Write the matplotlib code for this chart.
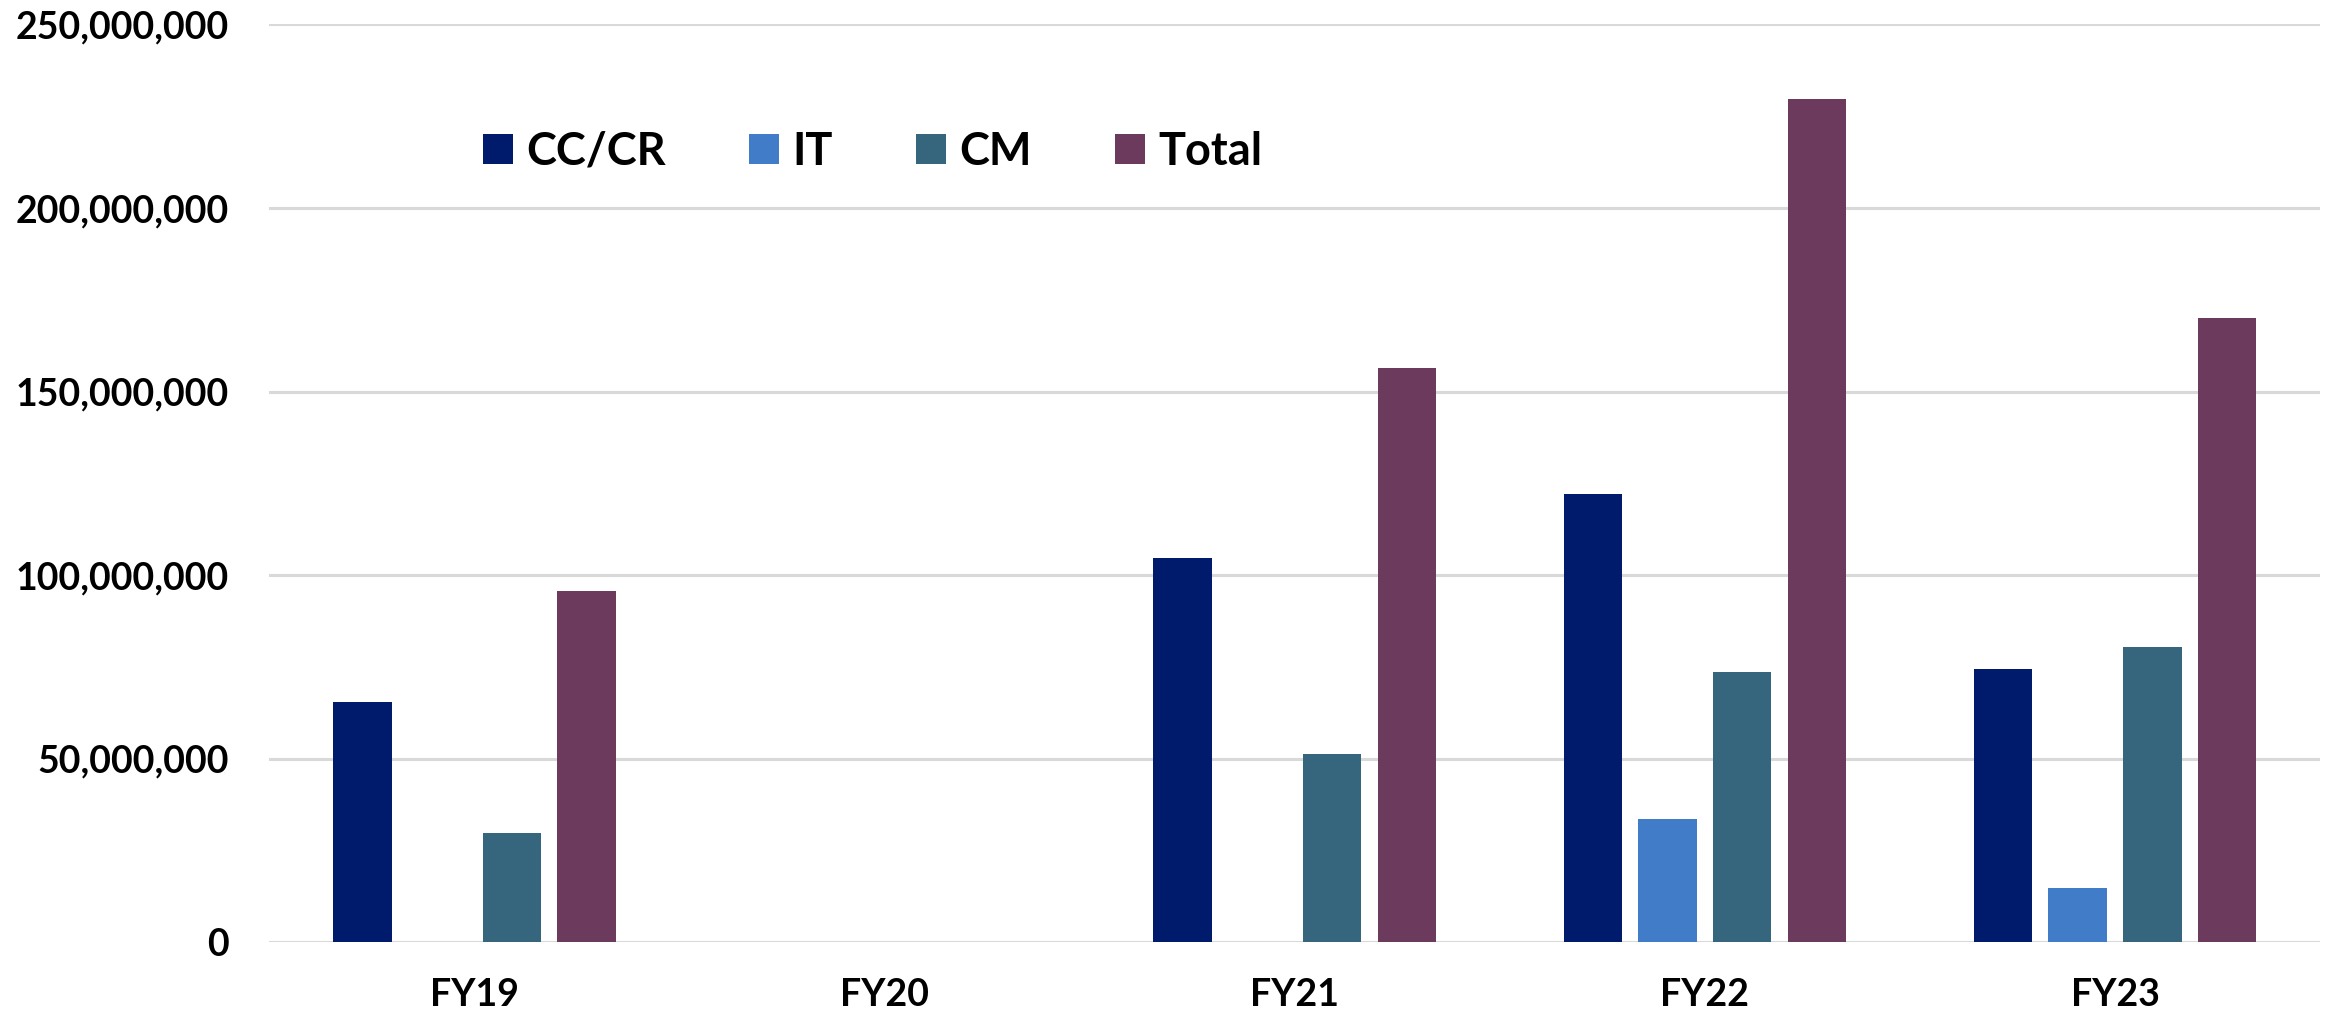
import numpy as np
import matplotlib
matplotlib.use("Agg")
import matplotlib.pyplot as plt
from matplotlib.ticker import FuncFormatter, MultipleLocator

plt.rcParams['font.family'] = ['Lato', 'DejaVu Sans']
plt.rcParams['font.weight'] = 'bold'

# data
years = ['FY19', 'FY20', 'FY21', 'FY22', 'FY23']
series = ['CC/CR', 'IT', 'CM', 'Total']
cc_cr = [65.5e6, 0, 104.8e6, 122.1e6, 74.5e6]
it = [0, 0, 0, 33.6e6, 14.8e6]
cm = [29.9e6, 0, 51.4e6, 73.5e6, 80.4e6]
total = [95.6e6, 0, 156.3e6, 229.6e6, 170.0e6]
colors = ['#001A6C', '#417CC9', '#36657E', '#6C3A5C']

fig = plt.figure(figsize=(23.36, 10.16), dpi=100)
ax = fig.add_axes([0.1153, 0.0725, 0.8779, 0.9034])

x = np.arange(len(years))
slot = 0.1821
width = 0.1426
for i, (vals, name) in enumerate(zip([cc_cr, it, cm, total], series)):
    ax.bar(x + (i - 1.5) * slot, vals, width, color=colors[i], label=name,
           linewidth=0, zorder=3)

ax.set_xlim(-0.5, 4.5)
ax.set_ylim(0, 250e6)
ax.yaxis.set_major_locator(MultipleLocator(50e6))
ax.yaxis.set_major_formatter(FuncFormatter(lambda v, p: f"{int(v):,}"))
ax.set_xticks(x)
ax.set_xticklabels(years)
ax.grid(axis='y', color='#D9D9D9', linewidth=2.2, zorder=0)
ax.set_axisbelow(True)
for s in ax.spines.values():
    s.set_visible(False)
ax.tick_params(axis='both', length=0, labelsize=27)
ax.tick_params(axis='y', pad=29)
ax.tick_params(axis='x', pad=26)

leg = fig.legend(loc='center left', bbox_to_anchor=(0.2068, 0.8504), ncol=4,
                 frameon=False, fontsize=32.5, handlelength=0.66, handleheight=0.64,
                 handletextpad=0.3, columnspacing=1.84, borderpad=0, borderaxespad=0)

fig.savefig('out.png', dpi=100)
